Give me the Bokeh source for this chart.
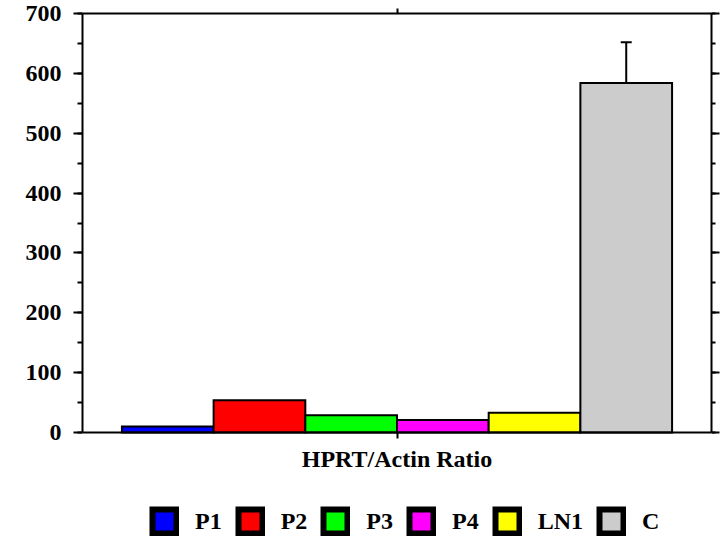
import numpy as np
from bokeh.plotting import figure
from bokeh.models import (ColumnDataSource, Range1d, LinearAxis, SingleIntervalTicker,
                          FixedTicker, Legend, LegendItem, Whisker, TeeHead)
from bokeh.embed import file_html
from bokeh.resources import INLINE

# ---- data ----
series = ["P1", "P2", "P3", "P4", "LN1", "C"]
values = [10, 54, 29, 21, 33, 584]
errors = [0, 0, 0, 0, 0, 68]
colors = ["#0000FF", "#FF0000", "#00FF00", "#FF00FF", "#FFFF00", "#CCCCCC"]
category = "HPRT/Actin Ratio"
y_ticks = [0, 100, 200, 300, 400, 500, 600, 700]
y_tick_labels = ["0", "100", "200", "300", "400", "500", "600", "700"]

FONT = "Liberation Serif"
PAD = 0.43

# layout (pixels)
W, H = 721, 536
LEFT, RIGHT, TOP = 82, 10, 13
AXIS_H = 419            # pixel height of the 0..700 axis
BELOW = H - TOP - AXIS_H  # room under the value axis for label + legend

xs = np.arange(len(series)) + 0.5
src = ColumnDataSource(dict(x=xs, top=values, color=colors, name=series))
center = len(series) / 2

y_lo, y_hi = y_ticks[0], y_ticks[-1]
y_start = y_lo - BELOW * (y_hi - y_lo) / AXIS_H
x_start, x_end = -PAD, len(series) + PAD

p = figure(width=W, height=H, output_backend="svg", toolbar_location=None,
           x_range=Range1d(x_start, x_end), y_range=Range1d(y_start, y_hi),
           x_axis_location=None, y_axis_location=None,
           min_border_left=LEFT, min_border_right=RIGHT, min_border_top=TOP, min_border_bottom=0)
p.xgrid.visible = False
p.ygrid.visible = False
p.outline_line_color = None
p.background_fill_color = "white"
p.border_fill_color = "white"


def make_axis(ticker, tick_out, minor_out=0, **kw):
    opts = dict(ticker=ticker, axis_line_width=2, axis_line_color="black",
                major_tick_line_width=2, minor_tick_line_width=2,
                major_tick_in=0, minor_tick_in=0,
                major_tick_out=tick_out, minor_tick_out=minor_out,
                major_label_text_font=FONT, major_label_text_font_style="bold",
                major_label_text_color="black")
    opts.update(kw)
    return LinearAxis(**opts)


left = make_axis(SingleIntervalTicker(interval=100, num_minor_ticks=2), 9, 5,
                 bounds=(y_lo, y_hi),
                 major_label_standoff=12, major_label_text_font_size="24px",
                 major_label_overrides={t: s for t, s in zip(y_ticks, y_tick_labels)})
right = make_axis(SingleIntervalTicker(interval=100, num_minor_ticks=2), 8, 4,
                  bounds=(y_lo, y_hi),
                  major_label_standoff=0, major_label_text_font_size="1px",
                  major_label_overrides={t: "" for t in y_ticks})
top = make_axis(FixedTicker(ticks=[center]), 5,
                major_label_standoff=0, major_label_text_font_size="1px",
                major_label_overrides={center: ""})
bottom = make_axis(FixedTicker(ticks=[center]), 6, fixed_location=y_lo,
                   major_label_standoff=7, major_label_text_font_size="24px",
                   major_label_overrides={center: category})
p.add_layout(left, "left")
p.add_layout(right, "right")
p.add_layout(top, "above")
p.add_layout(bottom, "below")

# bars
p.vbar(x="x", top="top", bottom=y_lo, width=1, source=src, fill_color="color",
       line_color="black", line_width=2, line_join="miter")

# error bars
err_idx = [i for i, e in enumerate(errors) if e > 0]
err_src = ColumnDataSource(dict(x=[xs[i] for i in err_idx],
                                lower=[values[i] for i in err_idx],
                                upper=[values[i] + errors[i] for i in err_idx]))
p.add_layout(Whisker(source=err_src, base="x", lower="lower", upper="upper",
                     dimension="height", line_width=2, line_color="black", level="overlay",
                     upper_head=TeeHead(size=11, line_width=2, line_color="black"),
                     lower_head=None))

# legend (inside the lower part of the frame, under the axis label)
lr = p.vbar(x="x", top="top", bottom=y_lo, width=1, source=src, fill_color="color",
            line_color="black", line_width=6, line_join="miter", visible=False)
items = [LegendItem(label=s, renderers=[lr], index=i) for i, s in enumerate(series)]
legend = Legend(items=items, orientation="horizontal", location=(67, 0),
                glyph_width=30, glyph_height=30, label_standoff=16, spacing=13,
                padding=0, margin=0, border_line_alpha=0, background_fill_alpha=0,
                label_text_font=FONT, label_text_font_style="bold",
                label_text_font_size="24px", label_text_color="black")
p.add_layout(legend)

open("out.html", "w").write(file_html(p, INLINE))
